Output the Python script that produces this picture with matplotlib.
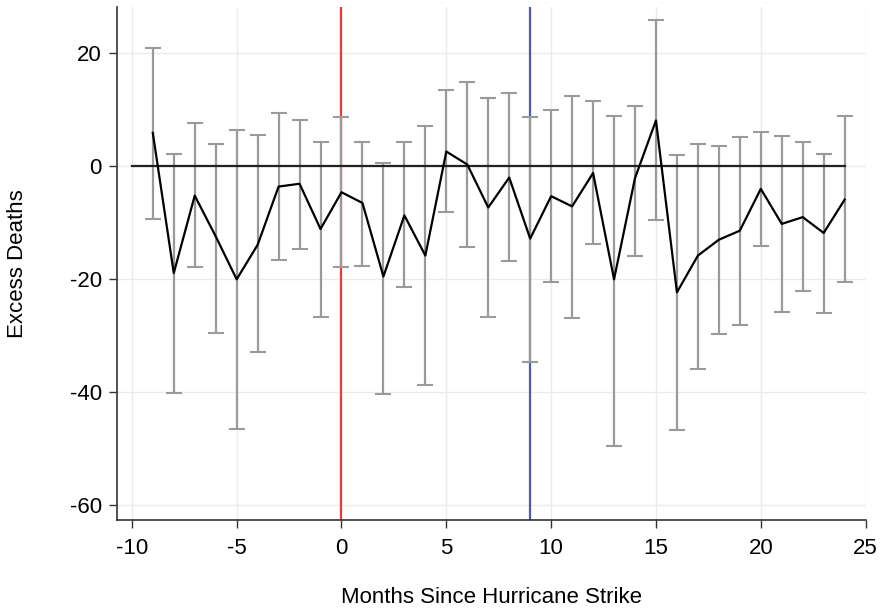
import matplotlib
matplotlib.use('Agg')
import matplotlib.pyplot as plt
import numpy as np

plt.rcParams.update({
    'font.family': ['Liberation Sans', 'DejaVu Sans'],
    'axes.unicode_minus': False,
})

# event-study estimates, months relative to strike
months = list(range(-9, 25))
estimate = [5.8, -19.0, -5.3, -12.5, -20.1, -14.0, -3.7, -3.2, -11.2, -4.7,
            -6.6, -19.6, -8.8, -15.9, 2.5, 0.2, -7.4, -2.1, -12.9, -5.4,
            -7.2, -1.3, -20.1, -2.2, 8.0, -22.4, -15.9, -13.1, -11.5, -4.1,
            -10.3, -9.1, -11.9, -6.0]
ci_upper = [20.8, 2.1, 7.5, 3.9, 6.3, 5.4, 9.4, 8.1, 4.1, 8.6,
            4.2, 0.5, 4.1, 7.0, 13.4, 14.8, 11.9, 12.8, 8.6, 9.9,
            12.4, 11.4, 8.8, 10.6, 25.7, 1.9, 3.9, 3.5, 5.0, 6.0,
            5.3, 4.1, 2.1, 8.7]
ci_lower = [-9.4, -40.2, -18.0, -29.6, -46.5, -33.0, -16.6, -14.7, -26.7, -17.9,
            -17.7, -40.4, -21.5, -38.8, -8.2, -14.3, -26.8, -16.8, -34.8, -20.6,
            -27.0, -13.9, -49.5, -15.9, -9.6, -46.7, -36.0, -29.8, -28.1, -14.2,
            -25.9, -22.1, -26.1, -20.5]

strike_month = 0
second_marker = 9
xticks = [-10, -5, 0, 5, 10, 15, 20, 25]
yticks = [-60, -40, -20, 0, 20]

est = np.array(estimate)
err = np.vstack([est - np.array(ci_lower), np.array(ci_upper) - est])

fig = plt.figure(figsize=(8.86, 6.16), dpi=100)
ax = fig.add_axes([0.132, 0.156, 0.845, 0.833])

ax.grid(True, color='#ebebeb', lw=1.0, zorder=0)
ax.set_axisbelow(True)

ax.axvline(strike_month, color='#ee3a36', lw=1.6, zorder=1)
ax.axvline(second_marker, color='#4b5bb3', lw=1.6, zorder=1)

ax.errorbar(months, est, yerr=err, fmt='none', ecolor='#9a9a9a',
            elinewidth=1.6, capsize=5.5, capthick=1.5, zorder=2)
ax.plot([-10, 24], [0, 0], color='#1e241c', lw=1.6, zorder=3)
ax.plot(months, est, color='black', lw=1.6, zorder=4)

ax.set_xlim(-10.71, 25.0)
ax.set_ylim(-62.65, 28.1)
ax.set_xticks(xticks)
ax.set_yticks(yticks)
ax.tick_params(axis='both', labelsize=16, length=6, width=1.0,
               color='#333333', pad=5)
ax.tick_params(axis='x', pad=7)

for side in ['top', 'right']:
    ax.spines[side].set_visible(False)
for side in ['left', 'bottom']:
    ax.spines[side].set_color('#333333')
    ax.spines[side].set_linewidth(1.2)

ax.set_xlabel('Months Since Hurricane Strike', fontsize=16, labelpad=20)
ax.set_ylabel('Excess Deaths', fontsize=16, labelpad=30)

plt.savefig('out.png', dpi=100)
plt.close()
